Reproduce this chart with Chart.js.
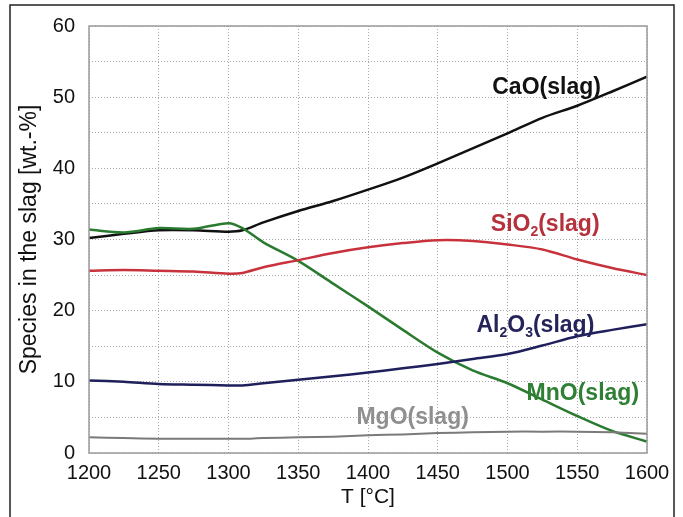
<!DOCTYPE html>
<html>
<head>
<meta charset="utf-8">
<script src="https://cdn.jsdelivr.net/npm/chart.js@4.4.1/dist/chart.umd.min.js"></script>
<style>
  html, body { margin: 0; padding: 0; background: #fff; }
  #wrap { position: relative; width: 683px; height: 517px; }
</style>
</head>
<body>
<div id="wrap"><canvas id="slagChart" width="683" height="517"></canvas></div>
<script>
// temperatures [°C]
const temps = [1200, 1225, 1250, 1275, 1300, 1310, 1325, 1350, 1375, 1400, 1425, 1450, 1475, 1500, 1525, 1550, 1575, 1600];

// species in the slag [wt.-%]
const cao = [30.2, 30.8, 31.3, 31.3, 31.1, 31.3, 32.4, 34.0, 35.4, 37.0, 38.7, 40.7, 42.8, 44.9, 47.1, 48.8, 50.8, 52.9];
const sio2 = [25.6, 25.7, 25.6, 25.5, 25.2, 25.3, 26.1, 27.1, 28.1, 28.9, 29.5, 29.9, 29.8, 29.3, 28.6, 27.2, 26.0, 25.0];
const mno = [31.4, 31.0, 31.6, 31.5, 32.3, 31.6, 29.6, 27.0, 23.8, 20.6, 17.3, 14.1, 11.6, 9.8, 7.5, 5.2, 3.1, 1.6];
const al2o3 = [10.2, 10.0, 9.7, 9.6, 9.5, 9.5, 9.8, 10.3, 10.8, 11.3, 11.9, 12.5, 13.2, 13.9, 15.1, 16.4, 17.3, 18.1];
const mgo = [2.2, 2.1, 2.0, 2.0, 2.0, 2.0, 2.1, 2.2, 2.3, 2.5, 2.6, 2.8, 2.9, 3.0, 3.0, 3.0, 2.9, 2.7];

// y tick values that carry a label
const yLabelTicks = [0, 10, 20, 30, 40, 50, 60];

// curve labels: [text pieces, T, wt.-%, colour]
const curveLabels = [
  [[['CaO(slag)', 0]], 1528, 51.4, '#111111'],
  [[['SiO', 0], ['2', 1], ['(slag)', 0]], 1527, 32.1, '#b5323d'],
  [[['Al', 0], ['2', 1], ['O', 0], ['3', 1], ['(slag)', 0]], 1520, 17.9, '#24245a'],
  [[['MnO(slag)', 0]], 1554, 8.4, '#2f7f35'],
  [[['MgO(slag)', 0]], 1432, 4.9, '#8f8f8f'],
];

const toXY = (vals) => vals.map((v, i) => ({ x: temps[i], y: v }));

const lineSet = (label, vals, color, width) => ({
  label,
  data: toXY(vals),
  borderColor: color,
  borderWidth: width,
  pointRadius: 0,
  tension: 0.3,
  fill: false,
});

const decorPlugin = {
  id: 'decor',
  beforeDraw(chart) {
    const { ctx } = chart;
    ctx.save();
    ctx.strokeStyle = '#222';
    ctx.lineWidth = 1.5;
    ctx.beginPath();
    ctx.moveTo(10, 520);
    ctx.lineTo(10, 5);
    ctx.lineTo(674, 5);
    ctx.lineTo(674, 520);
    ctx.stroke();
    ctx.restore();
  },
  afterDatasetsDraw(chart) {
    const { ctx, chartArea: a, scales: { x, y } } = chart;
    ctx.save();
    ctx.strokeStyle = '#9a9a9a';
    ctx.lineWidth = 1.5;
    ctx.strokeRect(a.left, a.top, a.right - a.left, a.bottom - a.top);

    const big = 'bold 23px "Liberation Sans", Arial, sans-serif';
    const small = 'bold 14px "Liberation Sans", Arial, sans-serif';
    ctx.textBaseline = 'middle';
    for (const [pieces, t, v, color] of curveLabels) {
      let total = 0;
      for (const [txt, sub] of pieces) {
        ctx.font = sub ? small : big;
        total += ctx.measureText(txt).width;
      }
      let px = x.getPixelForValue(t) - total / 2;
      const py = y.getPixelForValue(v);
      ctx.fillStyle = color;
      for (const [txt, sub] of pieces) {
        ctx.font = sub ? small : big;
        ctx.fillText(txt, px, sub ? py + 8 : py);
        px += ctx.measureText(txt).width;
      }
    }
    ctx.restore();
  },
};

new Chart(document.getElementById('slagChart'), {
  type: 'line',
  data: {
    datasets: [
      lineSet('MgO(slag)', mgo, '#7a7a7a', 2),
      lineSet('Al2O3(slag)', al2o3, '#1f1f5c', 2.5),
      lineSet('SiO2(slag)', sio2, '#c8323c', 2.5),
      lineSet('MnO(slag)', mno, '#2a7a30', 2.5),
      lineSet('CaO(slag)', cao, '#111111', 2.5),
    ],
  },
  options: {
    responsive: false,
    animation: false,
    layout: { padding: { left: 0, right: 36, top: 23, bottom: 0 } },
    plugins: { legend: { display: false }, tooltip: { enabled: false } },
    scales: {
      x: {
        type: 'linear',
        min: 1200,
        max: 1600,
        afterFit: (s) => { s.height = 64; },
        ticks: {
          stepSize: 50,
          color: '#111',
          padding: 8,
          maxRotation: 0,
          callback: (v) => String(v),
          font: { family: '"Liberation Sans", Arial, sans-serif', size: 20 },
        },
        grid: { color: '#a8a8a8', drawTicks: false, lineWidth: 1 },
        border: { display: false, dash: [1, 2] },
        title: {
          display: true,
          text: 'T [°C]',
          color: '#111',
          padding: { top: 0, bottom: 7 },
          font: { family: '"Liberation Sans", Arial, sans-serif', size: 21 },
        },
      },
      y: {
        min: 0,
        max: 60,
        afterFit: (s) => { s.width = 89; },
        ticks: {
          stepSize: 5,
          color: '#111',
          padding: 14,
          callback: (v) => (yLabelTicks.includes(v) ? String(v) : ''),
          font: { family: '"Liberation Sans", Arial, sans-serif', size: 20 },
        },
        grid: { color: '#a8a8a8', drawTicks: false, lineWidth: 1 },
        border: { display: false, dash: [1, 2] },
        title: {
          display: true,
          text: 'Species in the slag [wt.-%]',
          color: '#111',
          padding: { top: 16, bottom: 0 },
          font: { family: '"Liberation Sans", Arial, sans-serif', size: 23 },
        },
      },
    },
  },
  plugins: [decorPlugin],
});
</script>
</body>
</html>
